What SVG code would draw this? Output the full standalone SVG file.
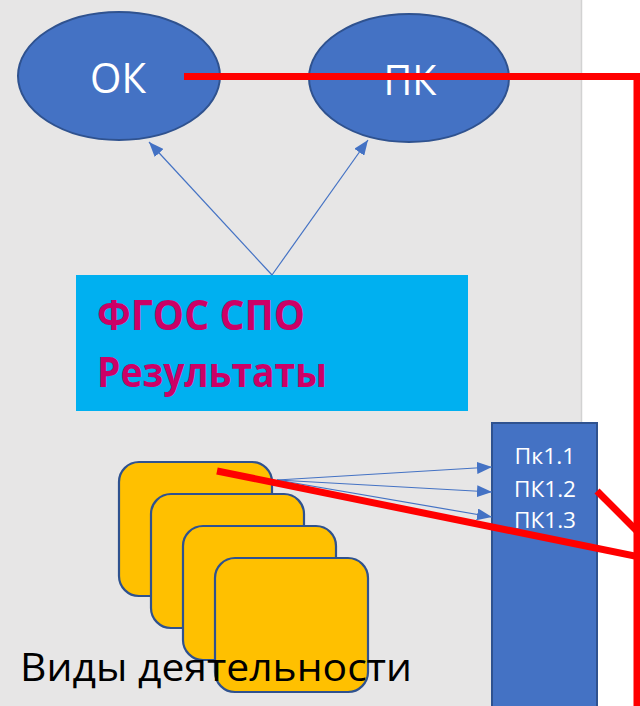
<svg xmlns="http://www.w3.org/2000/svg" width="640" height="706" viewBox="0 0 640 706">
<style>
.ell{fill:#4472c4;stroke:#2f528f;stroke-width:2}
.wt{fill:#ffffff;font-family:"Open Sans","Noto Sans",sans-serif}
.card{fill:#ffc000;stroke:#2f528f;stroke-width:2.2}
.conn{stroke:#4472c4;stroke-width:1.2;fill:none;marker-end:url(#ah)}
.red{stroke:#ff0000;stroke-width:7;fill:none}
.fg{fill:#cc0066;font-family:"Open Sans","Noto Sans",sans-serif;font-weight:bold;font-size:42px}
</style>
<defs>
<marker id="ah" viewBox="0 0 15 12" refX="15" refY="6" markerWidth="15" markerHeight="12" orient="auto" markerUnits="userSpaceOnUse">
<path d="M0,0 L15,6 L0,12 z" fill="#4472c4"/>
</marker>
</defs>
<rect x="0" y="0" width="640" height="706" fill="#ffffff"/>
<rect x="0" y="0" width="581" height="706" fill="#e7e6e6"/>
<line x1="581.5" y1="0" x2="581.5" y2="706" stroke="#d2d2d2" stroke-width="1.5"/>

<g id="node-ok">
<ellipse class="ell" cx="119" cy="76" rx="101" ry="64"/>
<text class="wt" x="118" y="93" font-size="42" text-anchor="middle" textLength="56" lengthAdjust="spacingAndGlyphs">ОК</text>
</g>
<g id="node-pk">
<ellipse class="ell" cx="409" cy="78" rx="100" ry="64"/>
<text class="wt" x="410" y="95" font-size="42" text-anchor="middle" textLength="53" lengthAdjust="spacingAndGlyphs">ПК</text>
</g>
<g id="node-fgos">
<rect x="76" y="275" width="392" height="136" fill="#00b0f0"/>
<text class="fg" x="97" y="330" textLength="208" lengthAdjust="spacingAndGlyphs">ФГОС СПО</text>
<text class="fg" x="97" y="387" textLength="230" lengthAdjust="spacingAndGlyphs">Результаты</text>
</g>
<g id="node-pk-list">
<rect x="492" y="423" width="105" height="290" fill="#4472c4" stroke="#2f528f" stroke-width="2"/>
<text class="wt" x="545" y="464" font-size="22" text-anchor="middle" textLength="61" lengthAdjust="spacingAndGlyphs">Пк1.1</text>
<text class="wt" x="545" y="497" font-size="22" text-anchor="middle" textLength="62" lengthAdjust="spacingAndGlyphs">ПК1.2</text>
<text class="wt" x="545" y="528" font-size="22" text-anchor="middle" textLength="62" lengthAdjust="spacingAndGlyphs">ПК1.3</text>
</g>
<g id="node-activities">
<rect class="card" x="119" y="462" width="153" height="134" rx="20"/>
<rect class="card" x="151" y="494" width="153" height="134" rx="20"/>
<rect class="card" x="183" y="526" width="153" height="134" rx="20"/>
<rect class="card" x="215" y="558" width="153" height="134" rx="20"/>
</g>
<g id="label-activities">
<text x="20" y="681" font-family="Open Sans, Noto Sans, sans-serif" font-size="39" fill="#000000" textLength="392" lengthAdjust="spacingAndGlyphs">Виды деятельности</text>
</g>
<g id="connectors">
<line class="conn" x1="272" y1="275" x2="149" y2="142"/>
<line class="conn" x1="272" y1="275" x2="368" y2="140"/>
<line class="conn" x1="277" y1="480" x2="492" y2="467"/>
<line class="conn" x1="277" y1="480" x2="492" y2="492"/>
<line class="conn" x1="277" y1="480" x2="492" y2="517"/>
<polyline class="red" points="184,76.5 637,76.5 637,706"/>
<line class="red" x1="217" y1="471" x2="640" y2="557"/>
<line class="red" x1="597" y1="491" x2="637" y2="531"/>
</g>
</svg>
